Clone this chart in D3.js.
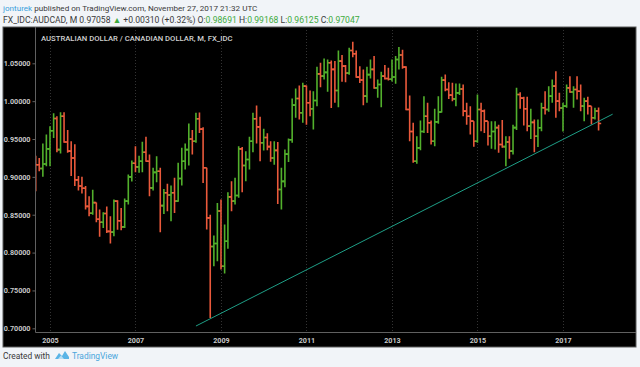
<!DOCTYPE html>
<html><head><meta charset="utf-8">
<script src="https://cdn.jsdelivr.net/npm/d3@7"></script>
<style>html,body{margin:0;padding:0;background:#f1f4f8;} svg{display:block;}</style>
</head><body><svg id="c" width="640" height="367"></svg>
<script>
const startMonth = "2004-09-01";
const opens = [.925,.916,.911,.917,.937,.961,.977,.936,.980,.946,.934,.925,.896,.888,.885,.861,.852,.866,.844,.840,
.8516,.828,.827,.868,.842,.834,.868,.900,.918,.9132,.9207,.9326,.9207,.8855,.906,.9075,.862,.879,.876,.879,
.868,.8978,.9207,.936,.950,.947,.9767,.963,.912,.8458,.808,.812,.855,.782,.815,.8736,.868,.8753,.937,.915,
.923,.947,.9767,.966,.945,.952,.940,.925,.935,.8833,.894,.930,.949,.9947,1.0035,.9846,1.0198,.9978,.990,1.0009,
1.036,1.033,1.038,1.0507,1.042,1.014,1.0529,1.0463,1.037,1.067,1.0626,1.0317,1.028,1.0066,1.035,1.042,1.0176,1.022,1.033,1.030,
1.029,1.032,1.055,1.061,1.045,.989,.960,.9207,.9383,.960,.980,.9714,.947,.9727,.9855,1.0278,1.0154,1.008,1.003,1.011,
1.016,.9868,.980,.9736,.947,.989,.9868,.9736,.9537,.960,.965,.9427,.940,.946,.934,.965,1.0088,1.004,.9899,.967,
.972,.9537,.9648,.9912,.989,1.0066,1.0198,1.0,.991,.9934,1.0176,1.012,1.0154,1.013,.9934,1.0,.9934,.978,.98691];
const highs = [.928,.925,.944,.956,.967,.984,.980,.9855,.9855,.962,.947,.943,.901,.900,.888,.8745,.883,.866,.857,.8533,
.861,.848,.870,.869,.859,.8714,.903,.9216,.9405,.928,.9463,.9529,.9295,.912,.9273,.912,.884,.8908,.8886,.8987,
.9185,.9383,.944,.9705,.962,.9846,.985,.9656,.912,.850,.8225,.8656,.870,.837,.8797,.8943,.8987,.9405,.9396,.934,
.953,.9846,.9943,.9793,.9634,.9575,.947,.947,.946,.912,.936,.9507,1.0035,1.0167,1.0207,1.0242,1.0207,1.014,1.0132,1.0454,
1.0507,1.0564,1.055,1.0537,1.0529,1.067,1.0608,1.0476,1.0705,1.0784,1.067,1.046,1.0418,1.0454,1.055,1.0595,1.0286,1.0388,1.0476,1.044,
1.055,1.0595,1.0714,1.068,1.046,1.0075,.9714,.9538,.9745,1.0066,.9978,.9745,.9899,1.0066,1.0322,1.0352,1.025,1.0242,1.0233,1.0233,
1.022,.9978,.9934,.9736,1.0088,.9978,.989,.9736,.9736,.9736,.969,.975,.9537,.9537,.969,1.0176,1.0119,1.0057,1.0057,.9899,
.9758,.9758,.9978,1.0132,1.0198,1.0286,1.0396,1.011,.9978,1.022,1.033,1.0198,1.033,1.022,1.0044,1.0057,.9934,.9912,.99168];
const lows = [.881,.9075,.900,.914,.914,.9515,.9326,.931,.945,.9317,.901,.888,.882,.878,.857,.848,.850,.840,.821,.8326,
.826,.812,.8216,.830,.8295,.8326,.8634,.894,.906,.9053,.906,.920,.8745,.882,.893,.827,.851,.8546,.8414,.8524,
.867,.8886,.9097,.915,.9295,.945,.958,.892,.8304,.7137,.782,.7886,.7775,.7723,.805,.8546,.8634,.8723,.8797,.8943,
.9097,.9326,.944,.9207,.9348,.935,.920,.916,.8643,.857,.8864,.9198,.945,.978,.9758,.9714,.969,.980,.9626,.9934,
1.0185,1.0286,1.0123,.991,.9978,.992,1.0255,1.025,1.035,1.058,1.0308,1.024,.9947,.9978,1.030,1.0163,1.0044,.992,1.0286,1.0273,
1.026,1.023,1.0418,1.0427,.988,.947,.9185,.9172,.935,.958,.958,.9427,.9405,.970,.985,1.0132,1.003,1.0,.9934,1.008,
.980,.969,.956,.9397,.945,.9604,.958,.9414,.937,.936,.9317,.9383,.914,.9238,.9295,.962,.9899,.9678,.9604,.950,
.9326,.9396,.9604,.9824,.986,.9978,.978,.9868,.960,.9912,1.011,.9912,1.0022,.9868,.9736,.9824,.9692,.9758,.96125];
const closes = [.916,.911,.917,.937,.961,.977,.936,.980,.946,.934,.925,.896,.888,.885,.861,.852,.866,.844,.840,.8516,
.828,.827,.868,.842,.834,.868,.900,.918,.9132,.9207,.9326,.9207,.8855,.906,.9075,.862,.879,.876,.879,.868,
.8978,.9207,.936,.950,.947,.9767,.963,.912,.8458,.808,.812,.855,.782,.815,.8736,.868,.8753,.937,.915,.923,
.947,.9767,.966,.945,.952,.940,.925,.935,.8833,.894,.930,.949,.9947,1.0035,.9846,1.0198,.9978,.990,1.0009,1.036,
1.033,1.038,1.0507,1.042,1.014,1.0529,1.0463,1.037,1.067,1.0626,1.0317,1.028,1.0066,1.035,1.042,1.0176,1.022,1.033,1.030,1.029,
1.032,1.055,1.061,1.045,.989,.960,.9207,.9383,.960,.980,.9714,.947,.9727,.9855,1.0278,1.0154,1.008,1.003,1.011,1.016,
.9868,.980,.9736,.947,.989,.9868,.9736,.9537,.960,.965,.9427,.940,.946,.934,.965,1.0088,1.004,.9899,.967,.972,
.9537,.9648,.9912,.989,1.0066,1.0198,1.0,.991,.9934,1.0176,1.012,1.0154,1.013,.9934,1.0,.9934,.978,.98691,.97047];
const yTicks = [0.70,0.75,0.80,0.85,0.90,0.95,1.00,1.05];
const xTickYears = [2005,2007,2009,2011,2013,2015,2017];
const trendDates = ["2008-06-01","2018-03-01"];
const trendValues = [0.703,0.9828];

const UP = "#52b02c", DOWN = "#ea593b";
const svg = d3.select("#c");
const frame = {x0:3, y0:27, x1:636, y1:347};
const plot = {x0:35.5, x1:636, y0:27, y1:332.5};

const months = d3.utcMonth.range(new Date(startMonth+"T00:00:00Z"), d3.utcMonth.offset(new Date(startMonth+"T00:00:00Z"), closes.length));
const bars = months.map((d,i)=>({d, o:opens[i], h:highs[i], l:lows[i], c:closes[i]}));

const x = d3.scaleUtc().domain([Date.UTC(2005,0,1), Date.UTC(2017,0,1)]).range([50, 563]);
const y = d3.scaleLinear().domain([0.70, 1.05]).range([328.3, 63.3]);

const font = "Roboto, 'Open Sans', sans-serif";

// header
const h1 = svg.append("text").attr("x",3).attr("y",11).attr("font-family",font).attr("font-size",8.1).attr("fill","#3a3a3a");
h1.append("tspan").attr("fill","#3aa0dc").text("jonturek");
h1.append("tspan").text(" published on TradingView.com, November 27, 2017 21:32 UTC");
const h2 = svg.append("text").attr("x",3).attr("y",22.5).attr("font-family",font).attr("font-size",8.6).attr("fill","#3a3a3a");
const G = "#3daa3d";
[["FX_IDC:AUDCAD, M 0.97058 ",null],["▲",G],[" +0.00310 (+0.32%) O:",null],["0.98691",G],[" H:",null],["0.99168",G],[" L:",null],["0.96125",G],[" C:",null],["0.97047",G]]
  .forEach(([t,c])=>{const s=h2.append("tspan").text(t); if(c) s.attr("fill",c);});

// frame
svg.append("rect").attr("x",frame.x0).attr("y",frame.y0).attr("width",frame.x1-frame.x0).attr("height",frame.y1-frame.y0)
  .attr("fill","#000").attr("stroke","#5a5a5a").attr("stroke-width",1);

// grid
svg.append("g").selectAll("line").data(xTickYears).join("line")
  .attr("x1",d=>Math.round(x(Date.UTC(d,0,1)))+0.5).attr("x2",d=>Math.round(x(Date.UTC(d,0,1)))+0.5)
  .attr("y1",plot.y0).attr("y2",plot.y1).attr("stroke","#333").attr("stroke-dasharray","1,2");

// axes lines
svg.append("line").attr("x1",plot.x0).attr("x2",plot.x0).attr("y1",plot.y0).attr("y2",plot.y1).attr("stroke","#606060");
svg.append("line").attr("x1",plot.x0).attr("x2",plot.x1).attr("y1",plot.y1).attr("y2",plot.y1).attr("stroke","#606060");

// y axis
const yAxis = d3.axisLeft(y).tickValues(yTicks).tickFormat(d3.format(".5f")).tickSize(3).tickPadding(2);
const ga = svg.append("g").attr("transform",`translate(${plot.x0},0)`).call(yAxis);
ga.select(".domain").remove();
ga.selectAll("line").attr("stroke","#606060");
ga.selectAll("text").attr("font-family",font).attr("font-size",7.2).attr("font-weight","bold").attr("fill","#c8c8c8");

// x axis
const xAxis = d3.axisBottom(x).tickValues(xTickYears.map(v=>new Date(Date.UTC(v,0,1)))).tickFormat(d3.utcFormat("%Y")).tickSize(0).tickPadding(5);
const gx = svg.append("g").attr("transform",`translate(0,${plot.y1})`).call(xAxis);
gx.select(".domain").remove();
gx.selectAll("text").attr("font-family",font).attr("font-size",7.2).attr("font-weight","bold").attr("fill","#c8c8c8");

// clip
svg.append("clipPath").attr("id","pc").append("rect").attr("x",plot.x0+0.5).attr("y",plot.y0).attr("width",plot.x1-plot.x0-1).attr("height",plot.y1-plot.y0);
const gp = svg.append("g").attr("clip-path","url(#pc)");

// title
svg.append("text").attr("x",41).attr("y",40.5).attr("font-family",font).attr("font-size",7.7).attr("font-weight",500)
  .attr("fill","#d0d0d0").text("AUSTRALIAN DOLLAR / CANADIAN DOLLAR, M, FX_IDC");

// bars
const gb = gp.selectAll("g.bar").data(bars).join("g").attr("class","bar")
  .attr("stroke",d=>d.c>=d.o?UP:DOWN).attr("stroke-width",1.6);
gb.append("line").attr("x1",d=>x(d.d)).attr("x2",d=>x(d.d)).attr("y1",d=>y(d.h)).attr("y2",d=>y(d.l));
gb.append("line").attr("x1",d=>x(d.d)-2.6).attr("x2",d=>x(d.d)).attr("y1",d=>y(d.o)).attr("y2",d=>y(d.o));
gb.append("line").attr("x1",d=>x(d.d)).attr("x2",d=>x(d.d)+2.6).attr("y1",d=>y(d.c)).attr("y2",d=>y(d.c));

// trendline
const td = trendDates.map(s=>new Date(s+"T00:00:00Z"));
gp.append("line").attr("x1",x(td[0])).attr("y1",y(trendValues[0])).attr("x2",x(td[1])).attr("y2",y(trendValues[1]))
  .attr("stroke","#1e9e86").attr("stroke-width",1);

// footer
svg.append("text").attr("x",3).attr("y",359).attr("font-family",font).attr("font-size",8.4).attr("fill","#3a3a3a").text("Created with");
const logo = svg.append("g").attr("transform","translate(55,350)");
logo.append("path").attr("d","M0,9 L4,3 L7,6 L10,1 L14,7 L14,9 Z").attr("fill","#5ab4e6");
logo.append("path").attr("d","M3,9 L6,5.5 L9,9 Z").attr("fill","#b9def3");
svg.append("text").attr("x",72).attr("y",359).attr("font-family",font).attr("font-size",8.4).attr("fill","#4aa6dc").text("TradingView");
</script></body></html>
